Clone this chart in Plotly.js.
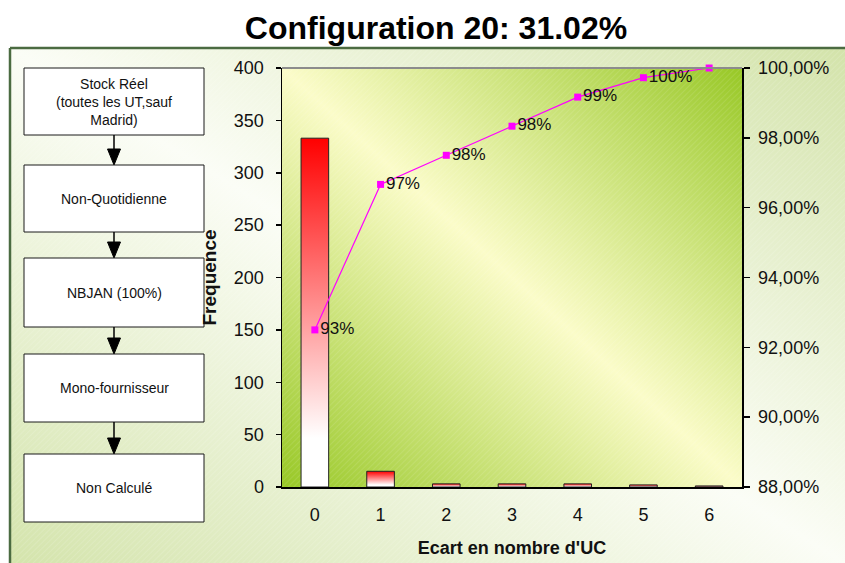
<!DOCTYPE html>
<html>
<head>
<meta charset="utf-8">
<script src="https://cdn.plot.ly/plotly-3.0.1.min.js"></script>
<style>html,body{margin:0;padding:0;background:#fff;}#chart{width:845px;height:563px;}</style>
</head>
<body>
<div id="chart"></div>
<script>
// ---- data ----
const categories = ['0', '1', '2', '3', '4', '5', '6'];
const frequencies = [333, 15, 3, 3, 3, 2, 1];
const cumulativeLabels = ['93%', '97%', '98%', '98%', '99%', '100%', ''];
const leftTickValues = [0, 50, 100, 150, 200, 250, 300, 350, 400];
const rightTickValues = [0.88, 0.90, 0.92, 0.94, 0.96, 0.98, 1.00];
const flowSteps = ['Stock Réel<br>(toutes les UT,sauf<br>Madrid)', 'Non-Quotidienne', 'NBJAN (100%)', 'Mono-fournisseur', 'Non Calculé'];
const chartTitle = 'Configuration 20: 31.02%';
const xTitle = "Ecart en nombre d'UC";
const yTitle = 'Frequence';

// cumulative share derived from the frequencies
const total = frequencies.reduce((a, b) => a + b, 0);
let run = 0;
const cumulative = frequencies.map(v => { run += v; return run / total; });
const boundaries = categories.map((c, i) => i - 0.5).concat([categories.length - 0.5]);

// ---- layout geometry (pixels) ----
const W = 845, H = 563, ML = 282, MR = 103, MT = 68, MB = 76;
const PW = W - ML - MR, PH = H - MT - MB;
const px = x => (x - ML) / PW;
const py = y => (H - MB - y) / PH;
const FONT = 'Liberation Sans, Arial, sans-serif';

// flowchart geometry
const boxX0 = 24, boxX1 = 204, boxCx = 114;
const boxTops = [68, 165, 258, 354, 454];
const boxBottoms = [135, 232, 327, 422, 522];

// backgrounds as svg images
function gradSvg(w, h, stops, hatch) {
  const st = stops.map(s => `<stop offset="${s[0]}" stop-color="${s[1]}"/>`).join('');
  return 'data:image/svg+xml;charset=utf-8,' + encodeURIComponent(
    `<svg xmlns="http://www.w3.org/2000/svg" width="${w}" height="${h}" viewBox="0 0 ${w} ${h}" preserveAspectRatio="none">` +
    `<defs><linearGradient id="g" x1="0" y1="1" x2="1" y2="0">${st}</linearGradient>` +
    `<pattern id="p" width="4" height="4" patternUnits="userSpaceOnUse" patternTransform="rotate(45)"><line x1="0" y1="0" x2="0" y2="4" stroke="#ffffff" stroke-width="1" stroke-opacity="${hatch}"/></pattern></defs>` +
    `<rect width="${w}" height="${h}" fill="url(#g)"/><rect width="${w}" height="${h}" fill="url(#p)"/></svg>`);
}

const images = [
  {
    source: gradSvg(835, 515, [[0, '#d4e4ac'], [0.5, '#fbfdf6'], [1, '#d3e3aa']], 0.25),
    xref: 'paper', yref: 'paper', x: px(10), y: py(48), sizex: 835 / PW, sizey: 515 / PH,
    xanchor: 'left', yanchor: 'top', sizing: 'stretch', layer: 'below'
  },
  {
    source: gradSvg(PW, PH, [[0, '#98c826'], [0.5, '#fbfcc9'], [1, '#98c826']], 0.2),
    xref: 'paper', yref: 'paper', x: 0, y: 1, sizex: 1, sizey: 1,
    xanchor: 'left', yanchor: 'top', sizing: 'stretch', layer: 'below'
  }
];

const shapes = [
  // outer frame (dark green)
  {type: 'line', xref: 'paper', yref: 'paper', x0: px(10), x1: px(W), y0: py(48), y1: py(48), line: {color: '#4b6b41', width: 2.5}},
  {type: 'line', xref: 'paper', yref: 'paper', x0: px(10), x1: px(10), y0: py(48), y1: py(H), line: {color: '#4b6b41', width: 2.5}},
  // plot area top edge
  {type: 'line', xref: 'paper', yref: 'paper', x0: 0, x1: 1, y0: 1, y1: 1, line: {color: '#8c8c8c', width: 2}}
];
const annotations = [];
flowSteps.forEach((txt, i) => {
  shapes.push({type: 'rect', xref: 'paper', yref: 'paper', x0: px(boxX0), x1: px(boxX1), y0: py(boxBottoms[i]), y1: py(boxTops[i]),
    fillcolor: '#ffffff', line: {color: '#1a1a1a', width: 1}});
  annotations.push({xref: 'paper', yref: 'paper', x: px(boxCx), y: py((boxTops[i] + boxBottoms[i]) / 2), text: txt,
    xanchor: 'center', yanchor: 'middle',
    showarrow: false, align: 'center', font: {family: FONT, size: 14, color: '#111'}});
  if (i < flowSteps.length - 1) {
    const b = boxBottoms[i], t = boxTops[i + 1];
    shapes.push({type: 'line', xref: 'paper', yref: 'paper', x0: px(boxCx), x1: px(boxCx), y0: py(b), y1: py(t - 12), line: {color: '#000', width: 1.5}});
    shapes.push({type: 'path', xref: 'paper', yref: 'paper',
      path: `M ${px(boxCx - 6.5)},${py(t - 16)} L ${px(boxCx + 6.5)},${py(t - 16)} L ${px(boxCx)},${py(t)} Z`,
      fillcolor: '#000', line: {color: '#000', width: 1}});
  }
});

const traces = [
  {
    type: 'bar', x: categories, y: frequencies, width: 0.42, xaxis: 'x', yaxis: 'y',
    marker: {color: '#ff6060', line: {color: '#222', width: 1}}, hoverinfo: 'skip'
  },
  {
    type: 'scatter', mode: 'lines+markers+text', x: categories, y: cumulative, yaxis: 'y2', xaxis: 'x',
    text: cumulativeLabels, textposition: 'middle right', cliponaxis: false,
    textfont: {family: FONT, size: 17, color: '#111'},
    line: {color: '#ff00ff', width: 1.2}, marker: {symbol: 'square', size: 7, color: '#ff00ff'}, hoverinfo: 'skip'
  }
];

const axisCommon = {showgrid: false, zeroline: false, fixedrange: true};
const layout = {
  width: W, height: H,
  margin: {l: ML, r: MR, t: MT, b: MB, pad: 0},
  paper_bgcolor: '#ffffff', plot_bgcolor: 'rgba(0,0,0,0)',
  separators: ', ',
  showlegend: false,
  font: {family: FONT, color: '#111'},
  title: {text: chartTitle, font: {family: FONT, size: 32, weight: 'bold', color: '#000'},
    xref: 'container', yref: 'container', x: 436 / W, y: 1 - 28 / H, xanchor: 'center', yanchor: 'middle'},
  xaxis: Object.assign({}, axisCommon, {
    type: 'linear', range: [-0.5, categories.length - 0.5], tickmode: 'array',
    tickvals: categories.map((c, i) => i), ticktext: categories, ticks: '',
    showline: true, linecolor: '#000', linewidth: 1.5, tickfont: {family: FONT, size: 18, color: '#111'},
    ticklabelstandoff: 11,
    title: {text: xTitle, font: {family: FONT, size: 18, weight: 'bold', color: '#111'}, standoff: 17}
  }),
  xaxis2: Object.assign({}, axisCommon, {
    type: 'linear', overlaying: 'x', anchor: 'y', range: [-0.5, categories.length - 0.5], tickmode: 'array',
    tickvals: boundaries, ticks: 'outside', ticklen: 6, tickcolor: '#000', tickwidth: 1.5, showticklabels: false, showline: false
  }),
  xaxis3: Object.assign({}, axisCommon, {
    type: 'linear', overlaying: 'x', anchor: 'y', range: [-0.5, categories.length - 0.5], tickmode: 'array',
    tickvals: boundaries, ticks: 'inside', ticklen: 6, tickcolor: '#000', tickwidth: 1.5, showticklabels: false, showline: false
  }),
  yaxis: Object.assign({}, axisCommon, {
    range: [0, 400], tickmode: 'array', tickvals: leftTickValues, ticks: 'outside', ticklen: 5, tickcolor: '#000', tickwidth: 1.5,
    showline: true, linecolor: '#000', linewidth: 1.5, tickfont: {family: FONT, size: 18, color: '#111'},
    ticklabelstandoff: 8,
    title: {text: yTitle, font: {family: FONT, size: 19, weight: 'bold', color: '#111'}, standoff: 12}
  }),
  yaxis3: Object.assign({}, axisCommon, {
    overlaying: 'y', anchor: 'x', range: [0, 400], tickmode: 'array', tickvals: leftTickValues,
    ticks: 'inside', ticklen: 7, tickcolor: '#000', tickwidth: 1.5, showticklabels: false, showline: false
  }),
  yaxis2: Object.assign({}, axisCommon, {
    overlaying: 'y', side: 'right', anchor: 'x', range: [0.88, 1.0], tickmode: 'array', tickvals: rightTickValues,
    tickformat: '.2%', ticks: 'outside', ticklen: 6, tickcolor: '#000', tickwidth: 1.5,
    showline: true, linecolor: '#000', linewidth: 1.5, tickfont: {family: FONT, size: 18, color: '#111'},
    ticklabelstandoff: 5
  }),
  yaxis4: Object.assign({}, axisCommon, {
    overlaying: 'y', side: 'right', anchor: 'x', range: [0.88, 1.0], tickmode: 'array', tickvals: rightTickValues,
    ticks: 'inside', ticklen: 6, tickcolor: '#000', tickwidth: 1.5, showticklabels: false, showline: false
  }),
  images: images,
  shapes: shapes,
  annotations: annotations
};

Plotly.newPlot('chart', traces, layout, {staticPlot: true, displayModeBar: false}).then(gd => {
  // red-to-white vertical gradient on the bars
  const svg = gd.querySelector('svg.main-svg');
  const ns = 'http://www.w3.org/2000/svg';
  let defs = svg.querySelector('defs');
  if (!defs) { defs = document.createElementNS(ns, 'defs'); svg.insertBefore(defs, svg.firstChild); }
  const lg = document.createElementNS(ns, 'linearGradient');
  lg.setAttribute('id', 'barGrad');
  lg.setAttribute('x1', '0'); lg.setAttribute('y1', '0'); lg.setAttribute('x2', '0'); lg.setAttribute('y2', '1');
  [['0', '#ff0000'], ['0.86', '#ffffff'], ['1', '#ffffff']].forEach(s => {
    const st = document.createElementNS(ns, 'stop');
    st.setAttribute('offset', s[0]); st.setAttribute('stop-color', s[1]);
    lg.appendChild(st);
  });
  defs.appendChild(lg);
  gd.querySelectorAll('.barlayer .point path').forEach(p => { p.style.fill = 'url(#barGrad)'; });
});
</script>
</body>
</html>
